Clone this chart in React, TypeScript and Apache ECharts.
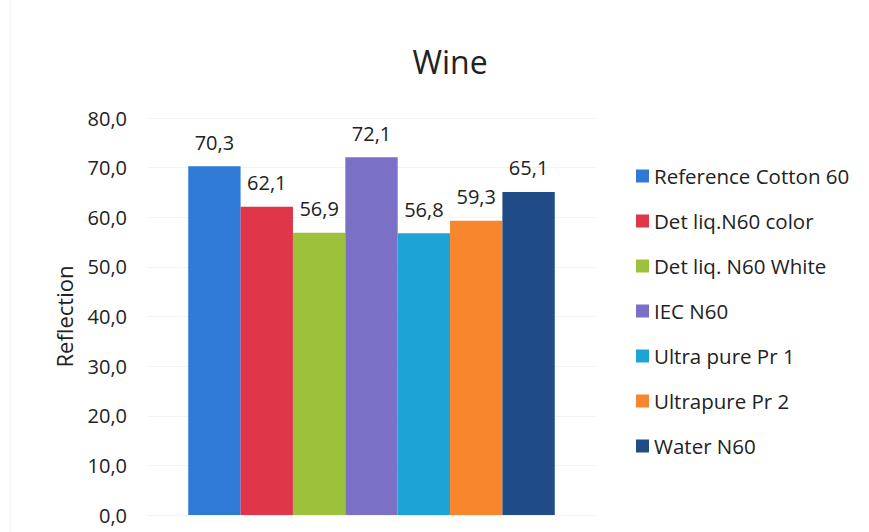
import React, { useEffect, useRef } from "react";
import * as echarts from "echarts";

const titleText = "Wine";
const yAxisName = "Reflection";
const categories = [""];
const seriesNames = [
  "Reference Cotton 60",
  "Det liq.N60 color",
  "Det liq. N60 White",
  "IEC N60",
  "Ultra pure Pr 1",
  "Ultrapure Pr 2",
  "Water N60",
];
const seriesValues = [70.3, 62.1, 56.9, 72.1, 56.8, 59.3, 65.1];
const seriesColors = ["#2f7ad6", "#e0364a", "#9cc23c", "#7a70c6", "#1ea3d6", "#f7862c", "#1f4c86"];

const fmt = (v: number) => v.toFixed(1).replace(".", ",");
const FONT = "'Open Sans', 'Noto Sans', sans-serif";

export default function App() {
  const ref = useRef<HTMLDivElement>(null);
  useEffect(() => {
    document.body.style.margin = "0";
    if (!ref.current) return;
    const chart = echarts.init(ref.current, null, { renderer: "svg" });
    chart.setOption({
      animation: false,
      backgroundColor: "#ffffff",
      textStyle: { fontFamily: FONT },
      title: {
        text: titleText,
        left: 445,
        textAlign: "center",
        top: 40,
        textStyle: { fontFamily: FONT, fontSize: 32, fontWeight: "normal", color: "#222" },
      },
      legend: {
        orient: "vertical",
        left: 631,
        top: 160,
        itemWidth: 13,
        itemHeight: 13,
        itemGap: 23,
        icon: "rect",
        textStyle: { fontFamily: FONT, fontSize: 20.5, color: "#222", lineHeight: 22 },
        data: seriesNames,
      },
      grid: { left: 148, right: 274, top: 118, bottom: 17, containLabel: false },
      xAxis: {
        type: "category",
        data: categories,
        axisLine: { show: false },
        axisTick: { show: false },
        axisLabel: { show: false },
      },
      yAxis: {
        type: "value",
        min: 0,
        max: 80,
        interval: 10,
        name: yAxisName,
        nameLocation: "middle",
        nameRotate: 90,
        nameGap: 73,
        nameTextStyle: { fontFamily: FONT, fontSize: 22, color: "#222" },
        axisLine: { show: false },
        axisTick: { show: false },
        axisLabel: { formatter: (v: number) => fmt(v), fontFamily: FONT, fontSize: 20, color: "#222", margin: 21 },
        splitLine: { show: true, lineStyle: { color: "#f3f3f3", width: 1 } },
      },
      series: seriesNames.map((name, i) => ({
        name,
        type: "bar",
        data: [seriesValues[i]],
        barGap: "0%",
        barCategoryGap: "18%",
        itemStyle: { color: seriesColors[i] },
        label: {
          show: true,
          position: "top",
          distance: 14,
          formatter: (p: any) => fmt(p.value),
          fontFamily: FONT,
          fontSize: 20,
          color: "#222",
        },
      })),
      graphic: [
        { type: "line", shape: { x1: 10, y1: 0, x2: 10, y2: 532 }, style: { stroke: "#eeeeee", lineWidth: 1 } },
      ],
    });
    return () => chart.dispose();
  }, []);
  return <div ref={ref} style={{ width: 869, height: 532 }} />;
}
